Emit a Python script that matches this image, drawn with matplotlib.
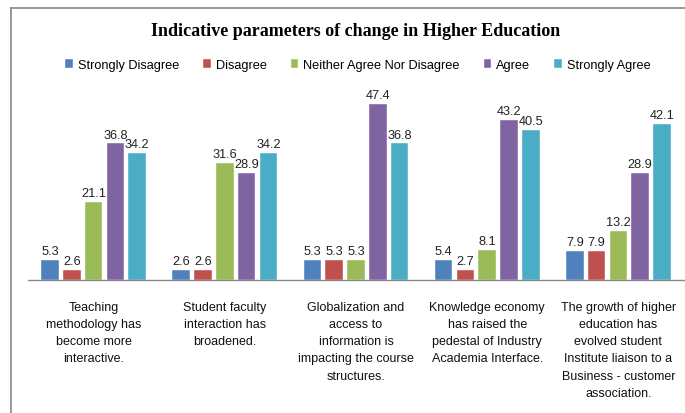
import matplotlib
matplotlib.use("Agg")
import matplotlib.pyplot as plt
import numpy as np
from matplotlib.lines import Line2D

categories = [
    "Teaching\nmethodology has\nbecome more\ninteractive.",
    "Student faculty\ninteraction has\nbroadened.",
    "Globalization and\naccess to\ninformation is\nimpacting the course\nstructures.",
    "Knowledge economy\nhas raised the\npedestal of Industry\nAcademia Interface.",
    "The growth of higher\neducation has\nevolved student\nInstitute liaison to a\nBusiness - customer\nassociation.",
]
series_names = ["Strongly Disagree", "Disagree", "Neither Agree Nor Disagree", "Agree", "Strongly Agree"]
strongly_disagree = [5.3, 2.6, 5.3, 5.4, 7.9]
disagree = [2.6, 2.6, 5.3, 2.7, 7.9]
neither = [21.1, 31.6, 5.3, 8.1, 13.2]
agree = [36.8, 28.9, 47.4, 43.2, 28.9]
strongly_agree = [34.2, 34.2, 36.8, 40.5, 42.1]
series_values = [strongly_disagree, disagree, neither, agree, strongly_agree]
colors = ["#4F81BD", "#C0504D", "#9BBB59", "#8064A2", "#4BACC6"]

SANS = "Liberation Sans"

fig = plt.figure(figsize=(6.85, 4.14), dpi=100)
ax = fig.add_axes([28/685, 1-281/414, 656/685, (281-95.5)/414])

x = np.arange(len(categories))
step = 0.166
width = 0.134
for i, (name, vals, c) in enumerate(zip(series_names, series_values, colors)):
    pos = x + (i - 2) * step
    ax.bar(pos, vals, width=width, color=c, label=name, edgecolor="white", linewidth=0.3)
    for p, v in zip(pos, vals):
        ax.text(p, v + 0.8, f"{v}", ha="center", va="bottom", fontsize=9.2,
                color="#222222", family=SANS)

ax.set_xlim(-0.5, 4.5)
ax.set_ylim(0, 50)
ax.set_yticks([])
for s in ["top", "right", "left"]:
    ax.spines[s].set_visible(False)
ax.spines["bottom"].set_color("#888888")
ax.spines["bottom"].set_linewidth(1.0)
ax.set_xticks(x)
ax.set_xticklabels(categories, fontsize=9.0, color="#111111", linespacing=1.58,
                   family=SANS)
ax.tick_params(axis="x", length=0, pad=15)

fig.text(356/685, 1-32/414, "Indicative parameters of change in Higher Education",
         ha="center", va="center", fontsize=13, fontweight="bold", family="Liberation Serif")

leg = fig.legend(loc="center", bbox_to_anchor=(358/685, 1-66/414), ncol=5, frameon=False,
                 handlelength=0.6, handleheight=0.6, handletextpad=0.4,
                 columnspacing=1.85, prop={"family": SANS, "size": 9.2})

fig.add_artist(Line2D([11/685, 11/685], [0, 1-9/414], color="#888888", lw=1.2, transform=fig.transFigure))
fig.add_artist(Line2D([11/685, 1], [1-9/414, 1-9/414], color="#888888", lw=1.2, transform=fig.transFigure))

fig.savefig("out.png", dpi=100)
